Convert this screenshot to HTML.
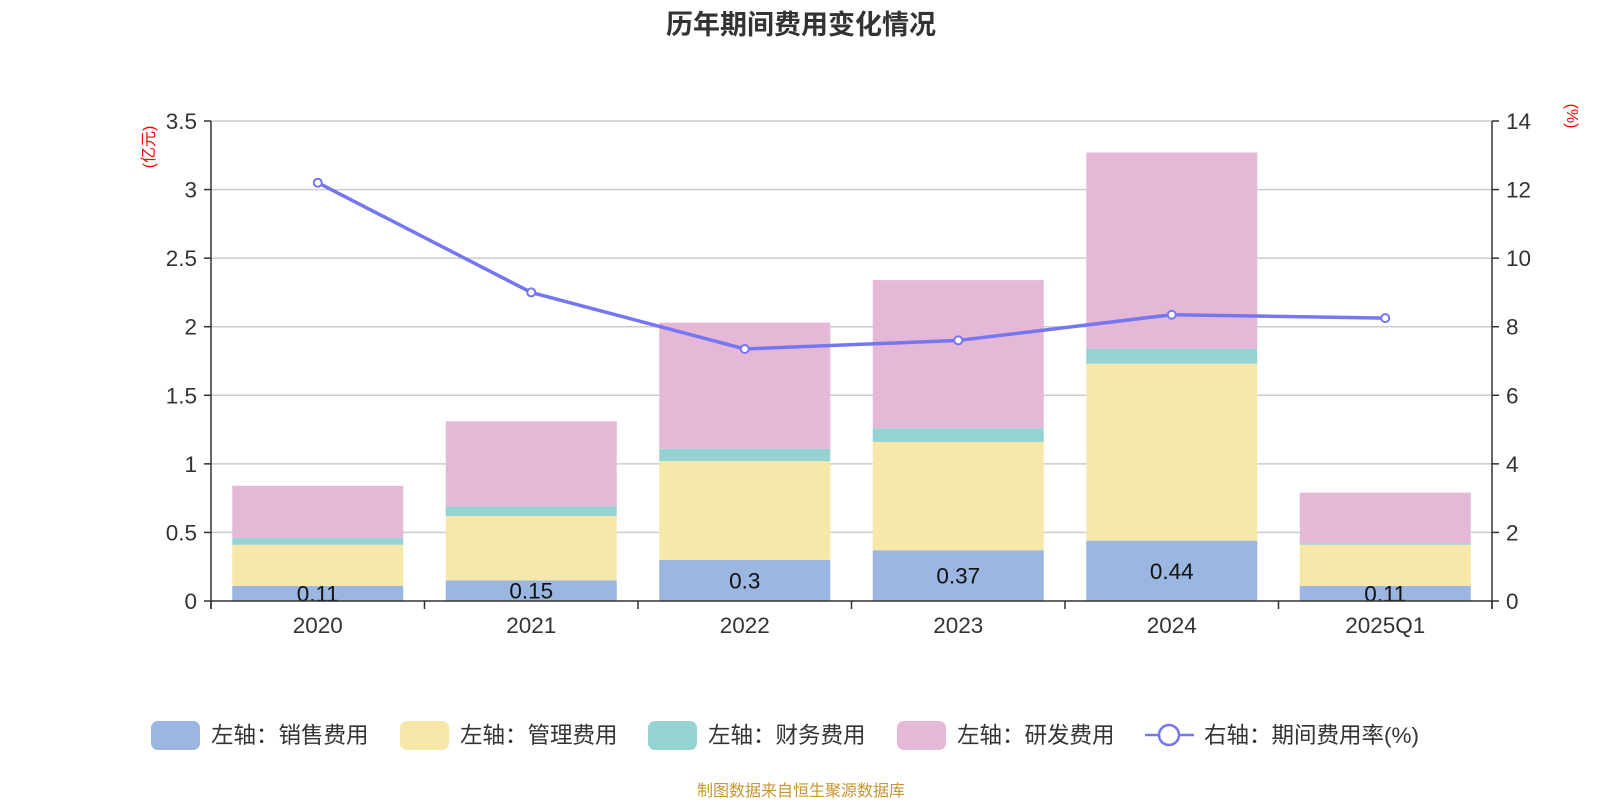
<!DOCTYPE html>
<html><head><meta charset="utf-8"><style>
body{margin:0;background:#fff;font-family:"Liberation Sans","Noto Sans CJK SC",sans-serif}
</style></head><body>
<svg id="c" width="1600" height="800" xmlns="http://www.w3.org/2000/svg" style="font-family:'Liberation Sans','Noto Sans CJK SC',sans-serif">
<text x="801" y="34" text-anchor="middle" font-size="27" font-weight="bold" fill="#333">历年期间费用变化情况</text>
<text transform="translate(150,147) rotate(-90)" text-anchor="middle" dominant-baseline="middle" font-size="16" fill="red">(亿元)</text>
<text transform="translate(1571,116) rotate(90)" text-anchor="middle" dominant-baseline="middle" font-size="16" fill="red">(%)</text>
<g id="grid"></g><g id="bars"></g><g id="axes"></g><g id="line"></g><g id="legend"></g>
<text x="801" y="796" text-anchor="middle" font-size="16" fill="#c8952e">制图数据来自恒生聚源数据库</text>
</svg>
<script>
const categories=["2020","2021","2022","2023","2024","2025Q1"];
const sales=[0.11,0.15,0.3,0.37,0.44,0.11];
const mgmt=[0.30,0.47,0.72,0.79,1.29,0.30];
const fin=[0.05,0.07,0.09,0.10,0.11,0.01];
const rnd=[0.38,0.62,0.92,1.08,1.43,0.37];
const rate=[12.2,9.0,7.35,7.6,8.35,8.25];
const leftTicks=["0","0.5","1","1.5","2","2.5","3","3.5"];
const rightTicks=["0","2","4","6","8","10","12","14"];
const ns="http://www.w3.org/2000/svg";
const L=211,R=1492,T=121,B=601;
const band=(R-L)/categories.length;
const xC=i=>L+band*(i+0.5);
const yL=v=>B-v/3.5*(B-T);
const yR=v=>B-v/14*(B-T);
function mk(tag,a,p){const e=document.createElementNS(ns,tag);for(const k in a)e.setAttribute(k,a[k]);p.appendChild(e);return e;}
const grid=document.getElementById('grid'),axes=document.getElementById('axes'),bars=document.getElementById('bars'),line=document.getElementById('line'),leg=document.getElementById('legend');
leftTicks.forEach((t,i)=>{const v=+t;const y=yL(v);
 if(v>0){const g=mk('line',{x1:L,x2:R,y1:y,y2:y,stroke:'#ccc','stroke-width':1.5},grid);
 
 }
 mk('line',{x1:L-7,x2:L,y1:y,y2:y,stroke:'#333','stroke-width':1.5},axes);
 const tx=mk('text',{x:L-14,y:y+8,'text-anchor':'end','font-size':22.5,fill:'#333'},axes);tx.textContent=t;
 
 });
rightTicks.forEach(t=>{const y=yR(+t);
 mk('line',{x1:R,x2:R+7,y1:y,y2:y,stroke:'#333','stroke-width':1.5},axes);
 const tx=mk('text',{x:R+14,y:y+8,'font-size':22.5,fill:'#333'},axes);tx.textContent=t;
 
 });
mk('line',{x1:L,x2:L,y1:T,y2:B+8,stroke:'#333','stroke-width':1.5},axes);
mk('line',{x1:R,x2:R,y1:T,y2:B+8,stroke:'#333','stroke-width':1.5},axes);
mk('line',{x1:L,x2:R,y1:B,y2:B,stroke:'#333','stroke-width':1.5},axes);
for(let i=0;i<=categories.length;i++){const x=L+band*i;mk('line',{x1:x,x2:x,y1:B,y2:B+8,stroke:'#333','stroke-width':1.5},axes);}
const series=[sales,mgmt,fin,rnd],colors=['#9bb6e0','#f7e7a8','#95d3d3','#e6b8d8'],names=['sales','mgmt','fin','rnd'];
categories.forEach((c,i)=>{let acc=0;const bw=171;
 series.forEach((s,k)=>{const r=mk('rect',{x:xC(i)-bw/2,y:yL(acc+s[i]),width:bw,height:yL(acc)-yL(acc+s[i]),fill:colors[k]},bars);
  
  
  acc+=s[i];});
 const lb=mk('text',{x:xC(i),y:yL(sales[i]/2)+8,'text-anchor':'middle','font-size':22.5,fill:'#111'},bars);lb.textContent=String(sales[i]);
 
 
 const tx=mk('text',{x:xC(i),y:B+32,'text-anchor':'middle','font-size':22.5,fill:'#333'},axes);tx.textContent=c;
 
 });
const pl=mk('polyline',{points:rate.map((v,i)=>xC(i)+','+yR(v)).join(' '),fill:'none',stroke:'#7577f0','stroke-width':3.5},line);


rate.forEach((v,i)=>{const p=mk('circle',{cx:xC(i),cy:yR(v),r:4,fill:'#fff',stroke:'#7577f0','stroke-width':2},line);
 
 });
const legItems=[['左轴：销售费用',151],['左轴：管理费用',400],['左轴：财务费用',648],['左轴：研发费用',897]];
legItems.forEach((it,k)=>{const g=mk('g',{},leg);
 
 
 mk('rect',{x:it[1],y:721,width:49,height:29,rx:7,fill:colors[k]},g);
 const t=mk('text',{x:it[1]+60,y:743,'font-size':22.5,fill:'#333'},g);t.textContent=it[0];});
const g=mk('g',{},leg);


mk('line',{x1:1145,x2:1194,y1:735,y2:735,stroke:'#7577f0','stroke-width':2.5},g);
mk('circle',{cx:1169,cy:735,r:10,fill:'#fff',stroke:'#7577f0','stroke-width':2.5},g);
const t=mk('text',{x:1204,y:743,'font-size':22.5,fill:'#333'},g);t.textContent='右轴：期间费用率(%)';
</script>
</body></html>
